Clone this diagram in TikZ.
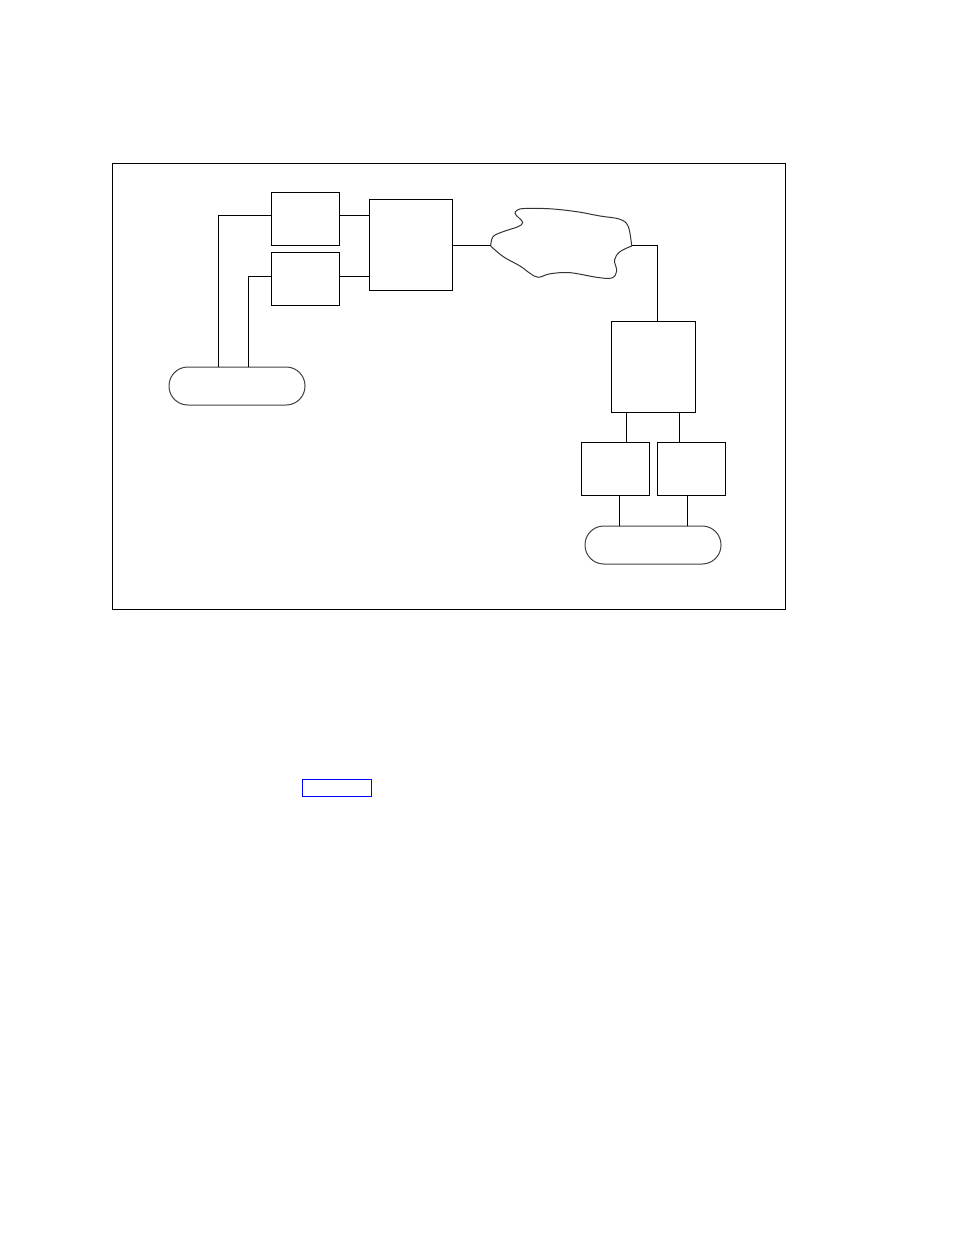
\documentclass[tikz,border=0pt]{standalone}
\begin{document}
\begin{tikzpicture}[x=0.5pt,y=-0.5pt,
  line width=0.5pt,
  box/.style={draw,inner sep=0pt,minimum width=34pt,minimum height=26.5pt},
  bigbox/.style={draw,inner sep=0pt},
  pill/.style={draw,inner sep=0pt,minimum width=68pt,minimum height=19pt,rounded corners=9.4pt,draw=black!75}]
\useasboundingbox (0,0) rectangle (954,1235);
% frame
\draw (112,163.5) rectangle (785,609);
% boxes
\node[box] (A) at (305,219.5) {};
\node[box] (B) at (305,279.5) {};
\node[bigbox,minimum width=41.5pt,minimum height=45.5pt] (C) at (410.5,245.5) {};
\node[bigbox,minimum width=42pt,minimum height=45pt] (D) at (653,367) {};
\node[box] (E) at (615,468.5) {};
\node[box] (F) at (691,468.5) {};
\node[pill] (P1) at (237,386) {};
\node[pill] (P2) at (653,545) {};
% cloud
\coordinate (cl) at (490.7,246);
\coordinate (cr) at (631.7,246);
\draw[draw=black!80] plot[smooth,tension=0.6] coordinates {(490.7,246) (493,236.7) (503,231.7) (518,226.7) (522.7,222.5) (519,218) (515,213.5) (517.5,210) (525,208.5) (550,208.8) (576.7,211.7) (600,216) (620,219.3) (628.3,226.7) (631.7,246)};
\draw[draw=black!80] plot[smooth,tension=0.6] coordinates {(490.7,246) (503.3,256.7) (520,266) (530,273.3) (538.3,277.3) (550,273.8) (570,272.7) (596.7,277.3) (611.7,278) (616.7,271) (614.5,260) (620,251.7) (631.7,246)};
% junction coordinates
\coordinate (j1) at (218.3,216);
\coordinate (j2) at (248.3,276.3);
\coordinate (j3) at (657.5,246);
\coordinate (j4) at (626.3,0);
\coordinate (j5) at (679.3,0);
\coordinate (j6) at (619.7,0);
\coordinate (j7) at (687.3,0);
% connectors
\draw (A.west |- j1) -| (P1.north -| j1);
\draw (A.east |- j1) -- (C.west |- j1);
\draw (B.west |- j2) -| (P1.north -| j2);
\draw (B.east |- j2) -- (C.west |- j2);
\draw (C.east |- cl) -- (cl);
\draw (cr) -| (D.north -| j3);
\draw (D.south -| j4) -- (E.north -| j4);
\draw (D.south -| j5) -- (F.north -| j5);
\draw (E.south -| j6) -- (P2.north -| j6);
\draw (F.south -| j7) -- (P2.north -| j7);
% blue rectangle
\node[draw=blue,line width=0.8pt,inner sep=0pt,minimum width=34.5pt,minimum height=8.5pt] (L) at (336.8,787.8) {};
\end{tikzpicture}
\end{document}
